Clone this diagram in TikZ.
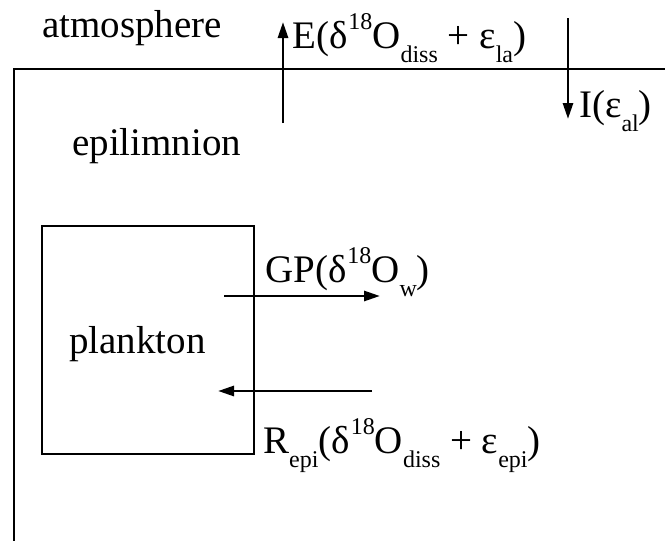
\documentclass[tikz,border=0pt]{standalone}
\usepackage{fontspec}
\setmainfont{Liberation Serif}
\usetikzlibrary{arrows.meta}
\newcommand{\lo}[1]{\raisebox{-14pt}{\fontsize{24}{24}\selectfont #1}}
\newcommand{\hi}[1]{\raisebox{19pt}{\fontsize{24}{24}\selectfont\kern1pt #1}}
\tikzset{
  lbl/.style={font=\fontsize{39}{40}\selectfont, inner sep=0pt, anchor=base west},
  wall/.style={line width=2.6pt},
  flow/.style={line width=2.8pt, -{Triangle[length=16pt,width=10pt]}},
  boxx/.style={draw, line width=2.4pt, minimum width=212pt, minimum height=228pt, inner sep=0pt}
}
\begin{document}
\begin{tikzpicture}[x=1pt,y=-1pt]
\useasboundingbox (0,0) rectangle (665,541);
% lake boundary
\coordinate (wr) at (666,69);
\coordinate (wc) at (14,69);
\coordinate (wb) at (14,542);
\draw[wall] (wr) -- (wc) -- (wb);
% plankton box
\node[boxx] (plank) at (148,340) {};
\node[lbl, anchor=base] (plabel) at (137.5,353) {plankton};
% texts
\node[lbl] (atm) at (42,37) {atmosphere};
\node[lbl] (epi) at (72,155) {epilimnion};
\node[lbl] (Elab) at (292,48) {E(δ\hi{18}O\lo{diss} + ε\lo{la})};
\node[lbl] (Ilab) at (579,117) {I(ε\lo{al})};
\node[lbl] (GPlab) at (265,282) {GP(δ\hi{18}O\lo{w})};
\node[lbl] (Rlab) at (263,453) {R\lo{epi}(δ\hi{18}O\lo{diss} + ε\lo{epi})};
% fluxes
\coordinate (Et) at (283,123);
\coordinate (Eh) at (283,22);
\draw[flow] (Et) -- (Eh);
\coordinate (It) at (568,18);
\coordinate (Ih) at (568,119);
\draw[flow] (It) -- (Ih);
\coordinate (Gt) at (224,296);
\coordinate (Gh) at (380,296);
\draw[flow] (Gt) -- (Gh);
\coordinate (Rt) at (372,391);
\coordinate (Rh) at (218,391);
\draw[flow] (Rt) -- (Rh);
\end{tikzpicture}
\end{document}
